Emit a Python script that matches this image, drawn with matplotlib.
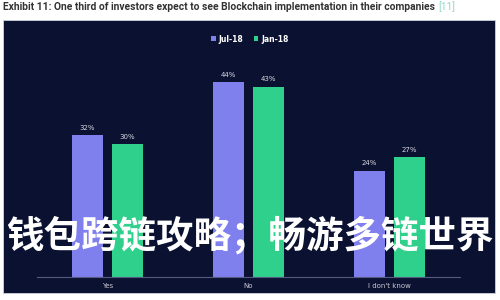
import numpy as np
import matplotlib as mpl
from matplotlib import pyplot as plt

categories = ["Yes", "No", "I don't know"]
series_names = ["Jul-18", "Jan-18"]
jul_18 = [32, 44, 24]
jan_18 = [30, 43, 27]
title = "Exhibit 11: One third of investors expect to see Blockchain implementation in their companies"
title_ref = "[11]"
overlay = "钱包跨链攻略；畅游多链世界"

BG = "#0b1131"
PURPLE = "#7f7fee"
GREEN = "#2fcf8c"

fig = plt.figure(figsize=(5, 3), dpi=100)
fig.patch.set_facecolor("white")

# dark panel behind the chart
panel = mpl.patches.Rectangle(
    (0.006, 0.023), 0.984, 0.91,
    transform=fig.transFigure, facecolor=BG, edgecolor="#cfd3dc", linewidth=0.6,
    zorder=-1,
)
fig.patches.append(panel)

# title, with the reference marker in a lighter colour after it
t = fig.text(0.006, 1 - 7 / 300, title, fontsize=7.4, fontweight="bold",
             family="Roboto", color="#333333", va="center", ha="left")
fig.canvas.draw()
bb = t.get_window_extent()
fig.text(bb.x1 / 500 + 0.006, 1 - 7 / 300, title_ref, fontsize=7.4,
         family="Roboto", color="#8fd8c8", va="center", ha="left")

ax = fig.add_axes([37 / 500, 23 / 300, 423 / 500, 217 / 300])
ax.set_facecolor("none")
ax.set_zorder(1)
x = np.arange(len(categories))
off, w = 0.142, 0.22
bars1 = ax.bar(x - off, jul_18, w, color=PURPLE, label=series_names[0])
bars2 = ax.bar(x + off, jan_18, w, color=GREEN, label=series_names[1])
for bars in (bars1, bars2):
    for b in bars:
        ax.annotate(f"{b.get_height():.0f}%",
                    (b.get_x() + b.get_width() / 2, b.get_height()),
                    xytext=(0, 5.5), textcoords="offset points",
                    ha="center", va="center", fontsize=5, color="#d8d8e0")

ax.set_xlim(-0.5, 2.5)
ax.set_ylim(0, 49)
ax.set_xticks(x)
ax.set_xticklabels(categories, fontsize=5, color="#c8c8d0")
ax.tick_params(axis="x", length=0, pad=4)
ax.set_yticks([])
for s in ("top", "right", "left"):
    ax.spines[s].set_visible(False)
ax.spines["bottom"].set_color("#555b80")
ax.spines["bottom"].set_linewidth(0.8)

leg = fig.legend(loc="center", bbox_to_anchor=(0.5, 1 - 39 / 300), ncol=2,
                 frameon=False, fontsize=5.5, handlelength=0.55, handleheight=0.55,
                 handletextpad=0.4, columnspacing=1.4)
for txt in leg.get_texts():
    txt.set_color("white")
    txt.set_fontweight("bold")

ov = fig.text(6 / 500, 1 - 236 / 300, overlay, fontsize=27, fontweight="black",
              family=["Noto Sans CJK SC", "DejaVu Sans"], color="white",
              va="center", ha="left")
ov.set_zorder(5)

plt.savefig("out.png", dpi=100)
plt.close()
